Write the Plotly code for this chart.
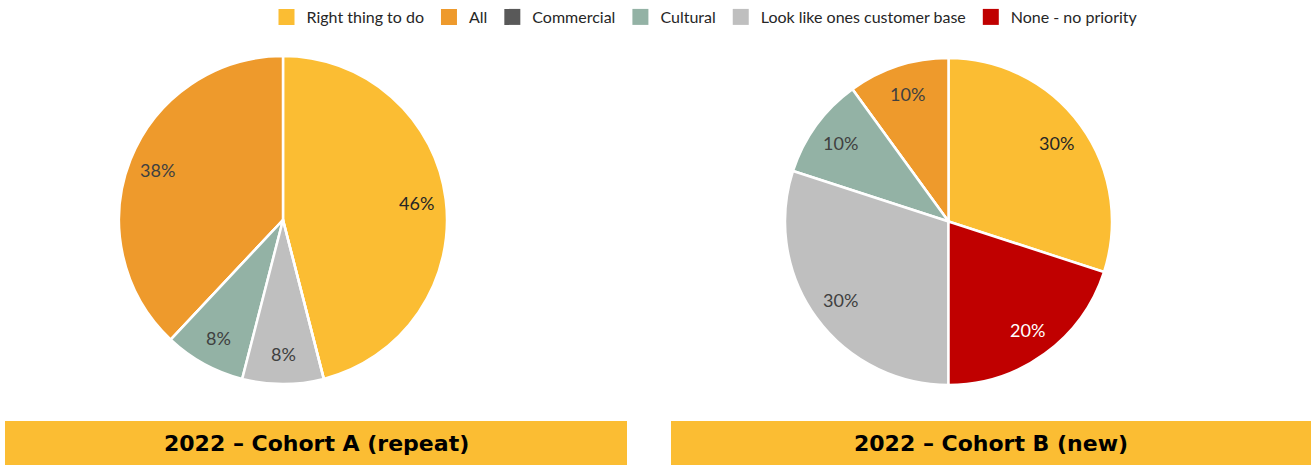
import math
import plotly.graph_objects as go

# Categories in legend order
categories = ["Right thing to do", "All", "Commercial", "Cultural",
              "Look like ones customer base", "None - no priority"]
colors = ["#FBBD33", "#EE9A2C", "#595959", "#93B2A5", "#BFBFBF", "#C00000"]
text_colors = ["#262626", "#404040", "#FFFFFF", "#404040", "#404040", "#FFFFFF"]

# Percentage shares per cohort
cohort_a = [46, 38, 0, 8, 8, 0]
cohort_b = [30, 10, 0, 10, 30, 20]

titles = ["2022 \u2013 Cohort A (repeat)", "2022 \u2013 Cohort B (new)"]

W, H = 1311, 465
LABEL_RADIUS = 0.82  # fraction of pie radius where value labels sit


def px_x(v):
    return v / W


def px_y(v):
    return 1 - v / H


fig = go.Figure()


def add_pie(values, left, right, top, bottom):
    total = sum(values)
    fig.add_trace(go.Pie(
        labels=categories,
        values=values,
        textinfo="none",
        sort=False,
        # first slice runs clockwise from 12 o'clock, the rest counterclockwise
        direction="counterclockwise",
        rotation=0,
        marker=dict(colors=colors, line=dict(color="white", width=2.5)),
        domain=dict(x=[px_x(left), px_x(right)], y=[px_y(bottom), px_y(top)]),
        hoverinfo="label+percent",
        showlegend=False,
    ))
    # value labels placed near the rim at each slice's mid-angle
    cx, cy = (left + right) / 2, (top + bottom) / 2
    r = min(right - left, bottom - top) / 2
    first = values[0] / total * 360
    mids = [first / 2]
    pos = 360.0  # clockwise degrees from 12 o'clock
    for v in values[1:]:
        ang = v / total * 360
        mids.append(pos - ang / 2)
        pos -= ang
    for v, a, tc in zip(values, mids, text_colors):
        if v <= 0:
            continue
        rad = math.radians(a)
        x = cx + LABEL_RADIUS * r * math.sin(rad)
        y = cy - LABEL_RADIUS * r * math.cos(rad)
        fig.add_annotation(xref="paper", yref="paper", x=px_x(x), y=px_y(y),
                           text=f"{v}%", showarrow=False,
                           font=dict(family="Lato", size=18, color=tc),
                           xanchor="center", yanchor="middle")


add_pie(cohort_a, 119, 447, 56, 384)
add_pie(cohort_b, 785, 1112, 58, 385)

# Legend entries as square markers
for name, col in zip(categories, colors):
    fig.add_trace(go.Scatter(x=[None], y=[None], mode="markers", name=name,
                             marker=dict(symbol="square", size=16, color=col),
                             showlegend=True, hoverinfo="skip"))

# Title banners under each pie
banners = [(5, 627), (671, 1311)]
for (x0, x1), title in zip(banners, titles):
    fig.add_shape(type="rect", xref="paper", yref="paper",
                  x0=px_x(x0), x1=px_x(x1), y0=0, y1=px_y(421),
                  fillcolor="#FBBD33", line=dict(width=0), layer="below")
    fig.add_annotation(xref="paper", yref="paper",
                       x=px_x((x0 + x1) / 2), y=px_y(443),
                       text=f"<b>{title}</b>", showarrow=False,
                       font=dict(family="DejaVu Sans", size=22, color="#000000"),
                       xanchor="center", yanchor="middle")

fig.update_layout(
    width=W, height=H,
    margin=dict(l=0, r=0, t=0, b=0),
    paper_bgcolor="white", plot_bgcolor="white",
    font=dict(family="Lato", color="#404040"),
    xaxis=dict(visible=False),
    yaxis=dict(visible=False),
    legend=dict(orientation="h", x=px_x(705), xanchor="center",
                y=1.0, yanchor="top", traceorder="normal",
                font=dict(family="Lato", size=16, color="#262626"),
                itemsizing="trace", itemwidth=30),
)

fig.write_html("out.html")
